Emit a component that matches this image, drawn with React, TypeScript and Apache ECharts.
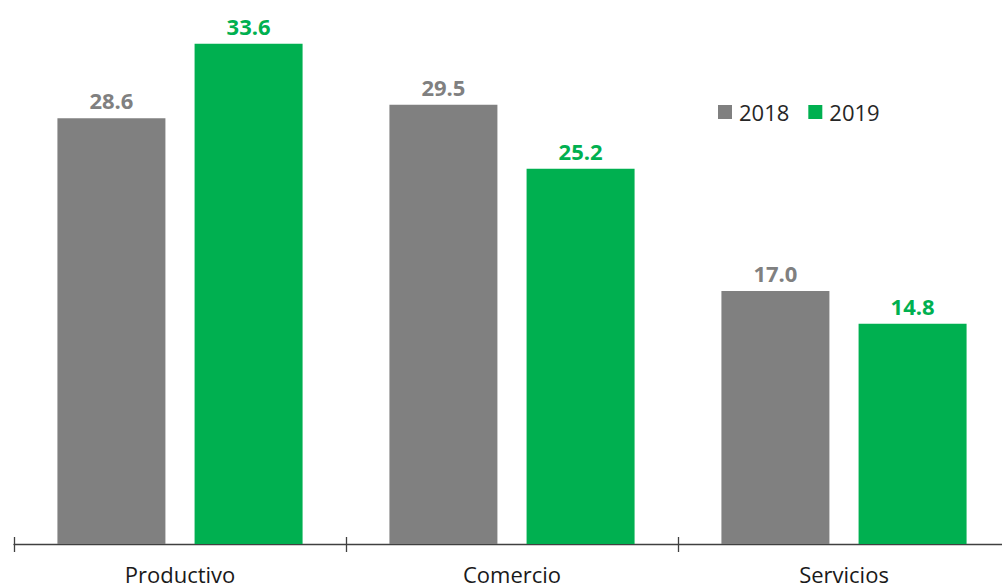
import React, { useEffect, useRef } from "react";
import * as echarts from "echarts";

const categories = ["Productivo", "Comercio", "Servicios"];
const values2018 = [28.6, 29.5, 17.0];
const values2019 = [33.6, 25.2, 14.8];
const seriesNames = ["2018", "2019"];

const GRAY = "#808080";
const GREEN = "#00B050";
const FONT = "'Open Sans', sans-serif";

export default function App() {
  const ref = useRef<HTMLDivElement>(null);
  useEffect(() => {
    if (!ref.current) return;
    const chart = echarts.init(ref.current, undefined, { renderer: "svg" });
    const labelFmt = (p: any) => Number(p.value).toFixed(1);
    chart.setOption({
      animation: false,
      backgroundColor: "#ffffff",
      textStyle: { fontFamily: FONT },
      legend: {
        data: seriesNames,
        left: 713,
        top: 96,
        itemWidth: 14,
        itemHeight: 14,
        itemGap: 19,
        icon: "rect",
        textStyle: { fontSize: 22, color: "#262626", fontFamily: FONT, padding: [0, 0, 0, 2] },
      },
      grid: { left: 14, right: 0, top: 8, bottom: 42, containLabel: false },
      xAxis: [
        {
          type: "category",
          data: categories,
          position: "bottom",
          axisLine: { show: true, lineStyle: { color: "#404040", width: 1.3 } },
          axisTick: { show: true, length: 8, lineStyle: { color: "#404040", width: 1.3 } },
          axisLabel: { fontSize: 22, color: "#1a1a1a", margin: 19, fontFamily: FONT },
        },
        {
          type: "category",
          data: categories,
          position: "bottom",
          axisLine: { show: false },
          axisTick: { show: true, inside: true, length: 7, lineStyle: { color: "#404040", width: 1.3 } },
          axisLabel: { show: false },
        },
      ],
      yAxis: {
        type: "value",
        min: 0,
        max: 36,
        show: false,
        splitLine: { show: false },
      },
      series: [
        {
          name: seriesNames[0],
          type: "bar",
          data: values2018,
          barWidth: 108,
          barGap: "27%",
          itemStyle: { color: GRAY },
          label: {
            show: true,
            position: "top",
            distance: 7,
            formatter: labelFmt,
            color: GRAY,
            fontWeight: "bold",
            fontSize: 22,
            fontFamily: FONT,
          },
        },
        {
          name: seriesNames[1],
          type: "bar",
          data: values2019,
          barWidth: 108,
          itemStyle: { color: GREEN },
          label: {
            show: true,
            position: "top",
            distance: 7,
            formatter: labelFmt,
            color: GREEN,
            fontWeight: "bold",
            fontSize: 22,
            fontFamily: FONT,
          },
        },
      ],
    });
    return () => chart.dispose();
  }, []);
  return (
    <div
      ref={ref}
      style={{ position: "fixed", left: 0, top: 0, width: 1010, height: 586 }}
    />
  );
}
